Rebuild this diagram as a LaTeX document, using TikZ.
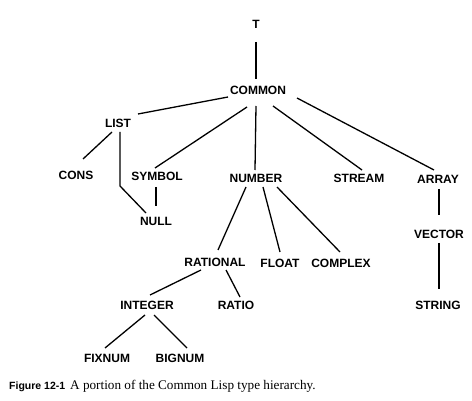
\documentclass[tikz,border=0pt]{standalone}
\usepackage{fontspec}
\setmainfont{Liberation Serif}
\newfontfamily\labfont{Liberation Sans}
\begin{document}
\begin{tikzpicture}[x=1pt,y=-1pt,
  typ/.style={inner sep=0pt,font=\labfont\bfseries\fontsize{12}{12}\selectfont},
  edge/.style={line width=1.3pt},
  capfig/.style={inner sep=0pt,anchor=base west,font=\labfont\bfseries\fontsize{10.5}{12}\selectfont},
  captxt/.style={inner sep=0pt,anchor=base west,font=\fontsize{13.2}{15}\selectfont}]
\useasboundingbox (0,0) rectangle (472,401);
\fill[white] (0,0) rectangle (472,401);
\node[typ] (t) at (256,24) {T};
\node[typ] (common) at (258,90) {COMMON};
\node[typ] (list) at (118,123) {LIST};
\node[typ] (cons) at (76,175.5) {CONS};
\node[typ] (symbol) at (157,176) {SYMBOL};
\node[typ] (number) at (256,178) {NUMBER};
\node[typ] (stream) at (359,178) {STREAM};
\node[typ] (array) at (438,179) {ARRAY};
\node[typ] (null) at (156,221) {NULL};
\node[typ] (vector) at (439,234) {VECTOR};
\node[typ] (rational) at (215,262) {RATIONAL};
\node[typ] (float) at (280,263) {FLOAT};
\node[typ] (complex) at (341,263) {COMPLEX};
\node[typ] (integer) at (147,305) {INTEGER};
\node[typ] (ratio) at (236,305) {RATIO};
\node[typ] (string) at (438,305) {STRING};
\node[typ] (fixnum) at (107,358) {FIXNUM};
\node[typ] (bignum) at (180,358) {BIGNUM};
\draw[edge] ([shift={(0,18)}]t.center) -- ([shift={(-2,-11)}]common.center);
\draw[edge] ([shift={(-30,7)}]common.center) -- ([shift={(20,-9)}]list.center);
\draw[edge] ([shift={(-11,17)}]common.center) -- ([shift={(-2,-8)}]symbol.center);
\draw[edge] ([shift={(-2,16)}]common.center) -- ([shift={(-1,-8)}]number.center);
\draw[edge] ([shift={(15,16)}]common.center) -- ([shift={(3,-8)}]stream.center);
\draw[edge] ([shift={(39,8)}]common.center) -- ([shift={(-4,-9)}]array.center);
\draw[edge] ([shift={(-6,9)}]list.center) -- ([shift={(7,-16.5)}]cons.center);
\draw[edge] ([shift={(2,9)}]list.center) -- ++(0,54) -- ([shift={(-10,-8)}]null.center);
\draw[edge] ([shift={(-1,11)}]symbol.center) -- ([shift={(0,-15)}]null.center);
\draw[edge] ([shift={(-10,9)}]number.center) -- ([shift={(3,-12)}]rational.center);
\draw[edge] ([shift={(7,9)}]number.center) -- ([shift={(0,-11)}]float.center);
\draw[edge] ([shift={(21,9)}]number.center) -- ([shift={(-1,-11)}]complex.center);
\draw[edge] ([shift={(1,10)}]array.center) -- ([shift={(0,-19)}]vector.center);
\draw[edge] ([shift={(0,9)}]vector.center) -- ([shift={(1,-16)}]string.center);
\draw[edge] ([shift={(-14,8)}]rational.center) -- ([shift={(3,-10)}]integer.center);
\draw[edge] ([shift={(11,8)}]rational.center) -- ([shift={(4,-8)}]ratio.center);
\draw[edge] ([shift={(-2,10)}]integer.center) -- ([shift={(-2,-10)}]fixnum.center);
\draw[edge] ([shift={(7,10)}]integer.center) -- ([shift={(7,-10)}]bignum.center);
\node[capfig] (fig) at (9,389) {Figure 12-1};
\node[captxt] (cap) at (70,389) {A portion of the Common Lisp type hierarchy.};
\end{tikzpicture}
\end{document}
